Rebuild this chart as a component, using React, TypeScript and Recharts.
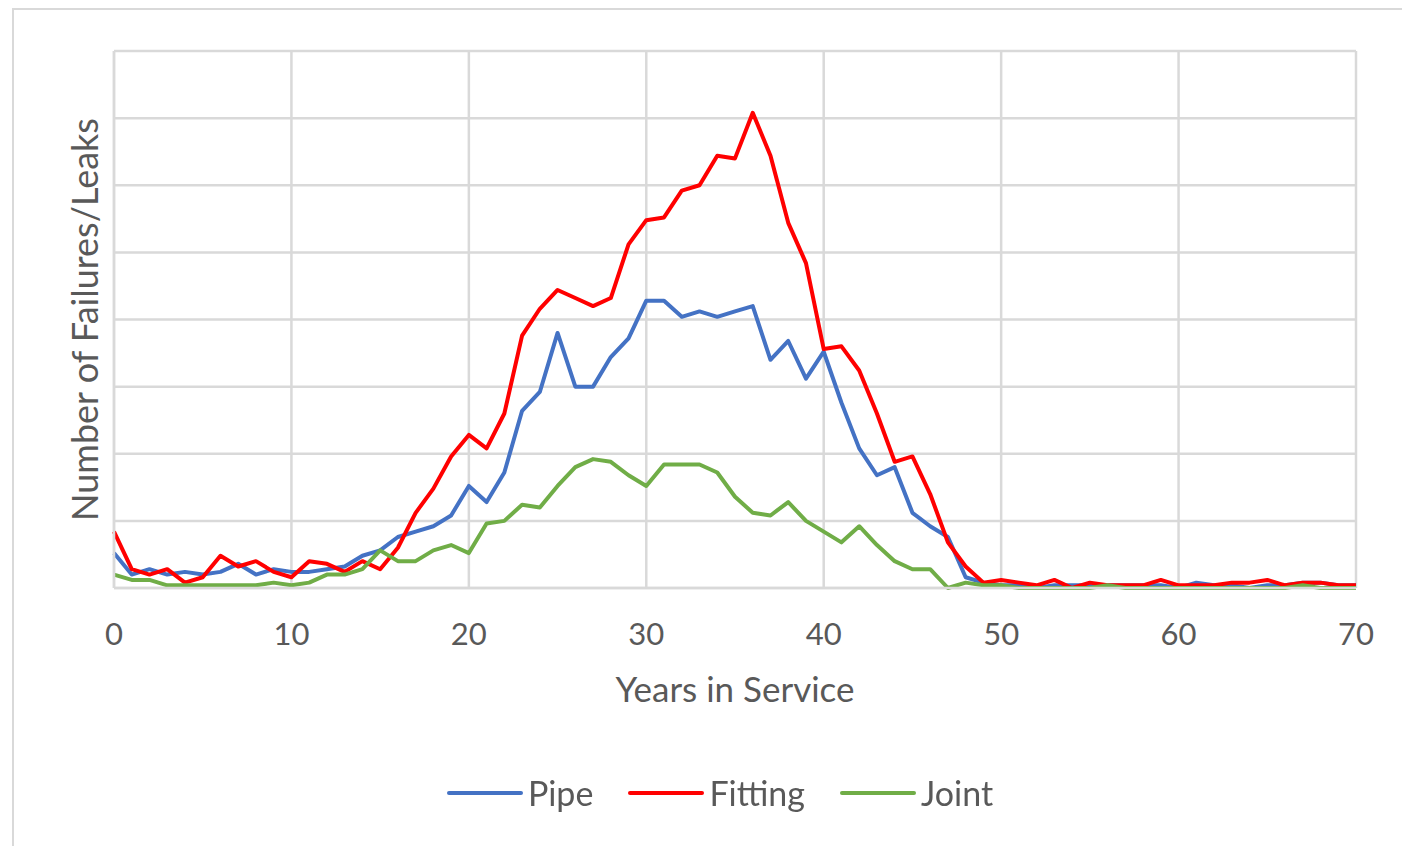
import { LineChart, Line, XAxis, YAxis, CartesianGrid, Legend } from 'recharts'

// years in service (x categories)
const years = [
  0, 1, 2, 3, 4, 5, 6, 7, 8, 9,
  10, 11, 12, 13, 14, 15, 16, 17, 18, 19,
  20, 21, 22, 23, 24, 25, 26, 27, 28, 29,
  30, 31, 32, 33, 34, 35, 36, 37, 38, 39,
  40, 41, 42, 43, 44, 45, 46, 47, 48, 49,
  50, 51, 52, 53, 54, 55, 56, 57, 58, 59,
  60, 61, 62, 63, 64, 65, 66, 67, 68, 69, 70,
]

// failure / leak counts per year of service
const pipe = [
  13, 5, 7, 5, 6, 5, 6, 9, 5, 7,
  6, 6, 7, 8, 12, 14, 19, 21, 23, 27,
  38, 32, 43, 66, 73, 95, 75, 75, 86, 93,
  107, 107, 101, 103, 101, 103, 105, 85, 92, 78,
  88, 69, 52, 42, 45, 28, 23, 19, 4, 2,
  1, 1, 0, 1, 1, 1, 1, 1, 1, 1,
  0, 2, 1, 1, 0, 1, 1, 2, 2, 1, 1,
]
const fitting = [
  21, 7, 5, 7, 2, 4, 12, 8, 10, 6,
  4, 10, 9, 6, 10, 7, 15, 28, 37, 49,
  57, 52, 65, 94, 104, 111, 108, 105, 108, 128,
  137, 138, 148, 150, 161, 160, 177, 161, 136, 121,
  89, 90, 81, 65, 47, 49, 35, 17, 8, 2,
  3, 2, 1, 3, 0, 2, 1, 1, 1, 3,
  1, 1, 1, 2, 2, 3, 1, 2, 2, 1, 1,
]
const joint = [
  5, 3, 3, 1, 1, 1, 1, 1, 1, 2,
  1, 2, 5, 5, 7, 14, 10, 10, 14, 16,
  13, 24, 25, 31, 30, 38, 45, 48, 47, 42,
  38, 46, 46, 46, 43, 34, 28, 27, 32, 25,
  21, 17, 23, 16, 10, 7, 7, 0, 2, 1,
  1, 0, 0, 0, 0, 0, 1, 0, 0, 0,
  0, 0, 0, 0, 0, 0, 0, 1, 0, 0, 0,
]

const xTicks = [0, 10, 20, 30, 40, 50, 60, 70]
const yTicks = [0, 25, 50, 75, 100, 125, 150, 175, 200]

const series = [
  { key: 'pipe', name: 'Pipe', color: '#4472C4' },
  { key: 'fitting', name: 'Fitting', color: '#FF0000' },
  { key: 'joint', name: 'Joint', color: '#70AD47' },
]

const data = years.map((year, i) => ({
  year,
  pipe: pipe[i],
  fitting: fitting[i],
  joint: joint[i],
}))

const FONT = 'Lato, "Open Sans", sans-serif'
const TEXT = '#595959'
const GRID = '#d9d9d9'

function LegendRow() {
  return (
    <div style={{ display: 'flex', justifyContent: 'center', alignItems: 'center', gap: 35 }}>
      {series.map(s => (
        <div key={s.key} style={{ display: 'flex', alignItems: 'center' }}>
          <span style={{ width: 76, height: 4, borderRadius: 2, background: s.color, marginRight: 5 }} />
          <span style={{ fontFamily: FONT, fontSize: 34, color: TEXT, lineHeight: '40px' }}>{s.name}</span>
        </div>
      ))}
    </div>
  )
}

function XTitle({ viewBox }: any) {
  const { x, y, width } = viewBox
  return (
    <text x={x + width / 2} y={y + 114} textAnchor="middle" fill={TEXT} fontFamily={FONT} fontSize={35}>
      Years in Service
    </text>
  )
}

// y axis carries no tick labels, only the grid
const NoTick = () => <g />

export default function App() {
  return (
    <div
      style={{
        position: 'fixed',
        left: 12,
        top: 8,
        width: 1400,
        height: 850,
        border: `2px solid ${GRID}`,
        boxSizing: 'border-box',
        background: '#fff',
      }}
    >
      <LineChart width={1386} height={836} data={data} margin={{ top: 41, right: 44, bottom: 138, left: 0 }}>
        <CartesianGrid stroke={GRID} strokeWidth={2.5} />
        <XAxis
          dataKey="year"
          type="number"
          domain={[0, 70]}
          ticks={xTicks}
          height={120}
          tickLine={false}
          axisLine={{ stroke: GRID, strokeWidth: 2.5 }}
          tickMargin={29}
          tick={{ fill: TEXT, fontFamily: FONT, fontSize: 31 }}
          label={<XTitle />}
        />
        <YAxis
          width={100}
          domain={[0, 200]}
          ticks={yTicks}
          tick={<NoTick />}
          tickLine={false}
          axisLine={{ stroke: GRID, strokeWidth: 2.5 }}
          label={{
            value: 'Number of Failures/Leaks',
            angle: -90,
            position: 'center',
            dx: 21,
            fill: TEXT,
            fontFamily: FONT,
            fontSize: 36,
          }}
        />
        <Legend
          verticalAlign="middle"
          align="center"
          layout="horizontal"
          content={<LegendRow />}
          wrapperStyle={{ top: 763, left: 13, width: 1386 }}
        />
        {series.map(s => (
          <Line
            key={s.key}
            dataKey={s.key}
            name={s.name}
            type="linear"
            stroke={s.color}
            strokeWidth={4}
            strokeLinejoin="round"
            dot={false}
            isAnimationActive={false}
          />
        ))}
      </LineChart>
    </div>
  )
}
